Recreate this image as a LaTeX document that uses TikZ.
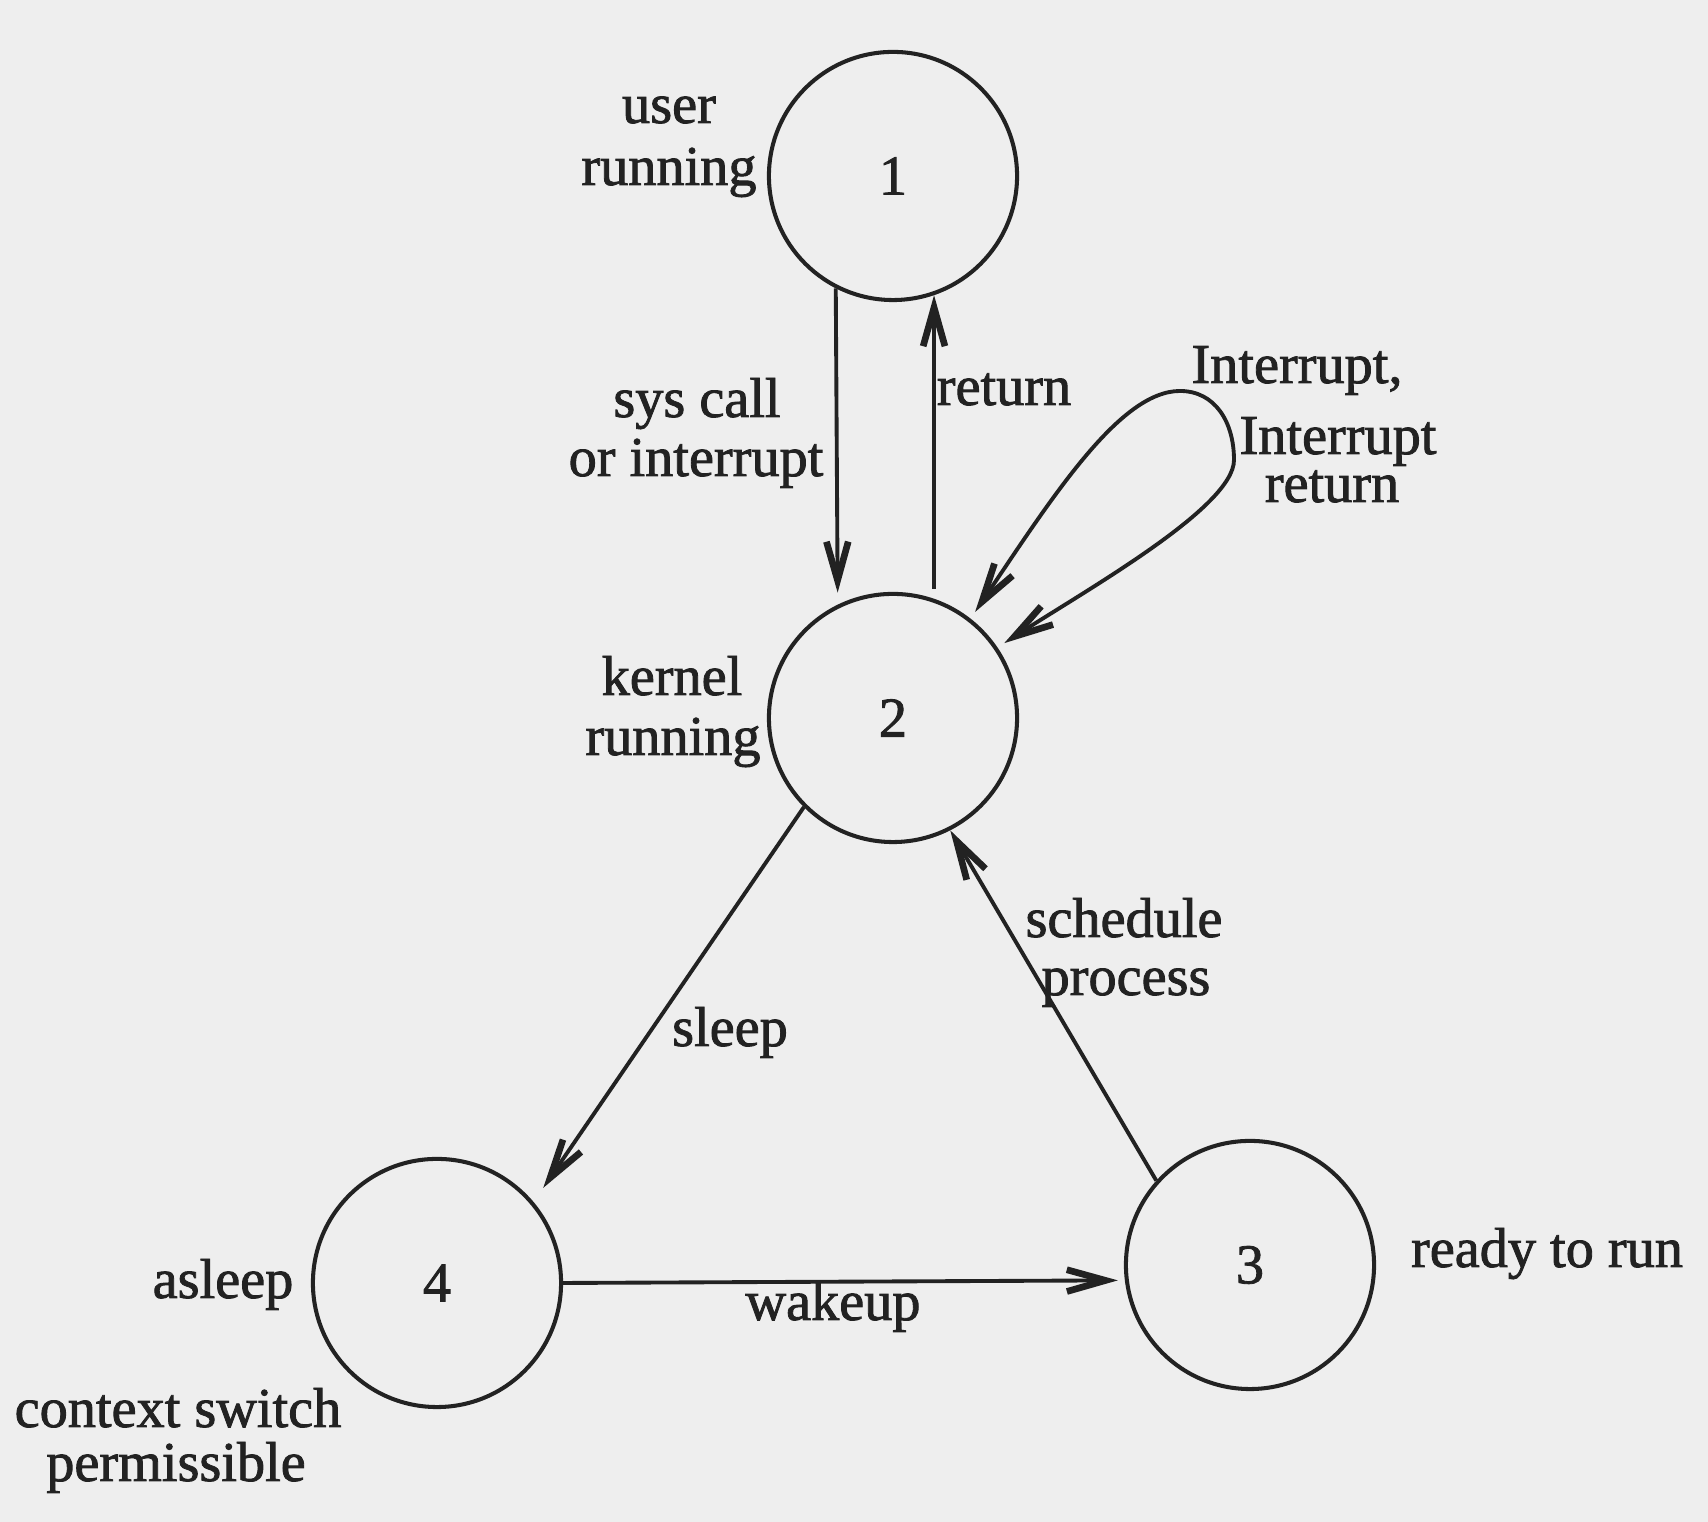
\documentclass[tikz,border=0pt]{standalone}
\usepackage{fontspec}
\setmainfont{Liberation Serif}
\newfontfamily\inkfont{Liberation Serif}[FakeBold=1.5]
\usetikzlibrary{arrows.meta}
\definecolor{ink}{RGB}{34,34,34}
\definecolor{paper}{RGB}{238,238,238}
\begin{document}
\begin{tikzpicture}[x=0.01cm,y=0.01cm,
  state/.style={circle,draw=ink,line width=1.15pt,minimum size=2.48cm,inner sep=0pt,text=ink,font=\inkfont\fontsize{16}{18}\selectfont},
  lbl/.style={anchor=base,inner sep=0pt,text=ink,font=\inkfont\fontsize{16}{18}\selectfont},
  tip/.tip={Straight Barb[length=11pt,width=6.2pt,line width=1.9pt]},
  arr/.style={draw=ink,line width=1.1pt,-tip},
  arrs/.style={draw=ink,line width=1.1pt,tip-tip},
]
\fill[paper] (0,0) rectangle (1708,1522);
\useasboundingbox (0,0) rectangle (1708,1522);

% states
\node[state] (c1) at (893,1346) {1};
\node[state] (c2) at (893,804) {2};
\node[state] (c3) at (1250,257) {3};
\node[state] (c4) at (437,239) {4};

% state labels
\node[lbl] (u1) at (669,1399) {user};
\node[lbl] (u2) at (669,1337) {running};
\node[lbl] (k1) at (672,827) {kernel};
\node[lbl] (k2) at (673,767) {running};
\node[lbl] (as) at (223,224) {asleep};
\node[lbl] (rr) at (1547,255) {ready to run};
\node[lbl] (cs1) at (178,95) {context switch};
\node[lbl] (cs2) at (176,41) {permissible};

% transition labels
\node[lbl] (sc1) at (697,1105) {sys call};
\node[lbl] (sc2) at (696,1046) {or interrupt};
\node[lbl] (rt) at (1004,1117) {return};
\node[lbl] (ir0) at (1297,1139) {Interrupt,};
\node[lbl] (ir1) at (1338,1068) {Interrupt};
\node[lbl] (ir2) at (1332,1020) {return};
\node[lbl] (sp1) at (1124,585) {schedule};
\node[lbl] (sp2) at (1126,527) {process};
\node[lbl] (sl) at (730,476) {sleep};
\node[lbl] (wk) at (833,202) {wakeup};

% transitions
\draw[arr,shorten >=0.12cm] (c1.243.7) -- (c2.116.3);
\draw[arr,shorten <=0.1cm] (c2.71.7) -- (c1.-71.7);
\draw[arr,shorten >=0.17cm] (c2.225.7) -- (c4.40.7);
\draw[arr] (c3.138.9) -- (c2.-63.2);
\draw[arr,shorten >=0.07cm] (c4.0.9) -- (c3.187.4);

% self loop on kernel running
\coordinate (lt) at (1180,1131);
\coordinate (lr) at (1234,1062);
\draw[arrs,shorten <=0.08cm,shorten >=0.08cm]
  (c2.52) .. controls (1053,1026) and (1120,1131) .. (lt)
          .. controls (1215,1131) and (1234,1100) .. (lr)
          .. controls (1234,1015) and (1088,933) .. (c2.34.6);
\end{tikzpicture}
\end{document}
